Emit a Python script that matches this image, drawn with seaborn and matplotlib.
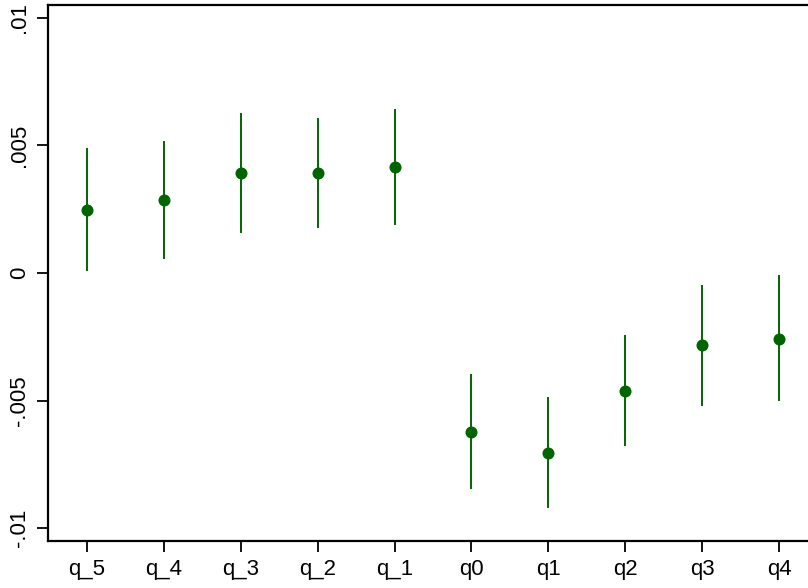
import matplotlib.pyplot as plt
import numpy as np
import pandas as pd
import seaborn as sns

# coefficients and 95% CIs
labels = ["q_5", "q_4", "q_3", "q_2", "q_1", "q0", "q1", "q2", "q3", "q4"]
coef = [0.00248, 0.00286, 0.00393, 0.00393, 0.00416,
        -0.00622, -0.00705, -0.00462, -0.00282, -0.00258]
ci_low = [0.00007, 0.00054, 0.00158, 0.00175, 0.00189,
          -0.00848, -0.00920, -0.00677, -0.00520, -0.00502]
ci_high = [0.00489, 0.00518, 0.00625, 0.00609, 0.00643,
           -0.00397, -0.00485, -0.00243, -0.00047, -0.00008]
yticks = [-0.01, -0.005, 0, 0.005, 0.01]
ytick_labels = ["-.01", "-.005", "0", ".005", ".01"]

df = pd.DataFrame({"term": labels, "coef": coef, "lo": ci_low, "hi": ci_high})
df["pos"] = np.arange(len(df))

sns.set_style("ticks")
plt.rcParams["font.family"] = ["Liberation Sans", "DejaVu Sans"]

green = "#006400"

fig = plt.figure(figsize=(8.08, 5.88), dpi=100)
# axes runs slightly past the right edge, like the cropped original
ax = fig.add_axes([48 / 808, 47 / 588, 770 / 808, 536 / 588])

ax.vlines(df["pos"], df["lo"], df["hi"], color=green, linewidth=1.4, zorder=2)
sns.scatterplot(data=df, x="pos", y="coef", ax=ax, color=green, s=75,
                edgecolor=green, linewidth=0, zorder=3)

ax.set_xlim(-0.507, len(df) - 0.493)
ax.set_ylim(-0.0105, 0.0105)
ax.set_xticks(df["pos"])
ax.set_xticklabels(labels)
ax.set_yticks(yticks)
ax.set_yticklabels(ytick_labels, rotation=90, va="center")
ax.set_xlabel("")
ax.set_ylabel("")

for side in ax.spines.values():
    side.set_linewidth(1.6)
    side.set_color("black")
ax.tick_params(axis="both", length=8, width=1.3, labelsize=16, pad=5,
               colors="black")

fig.savefig("out.png", dpi=100)
